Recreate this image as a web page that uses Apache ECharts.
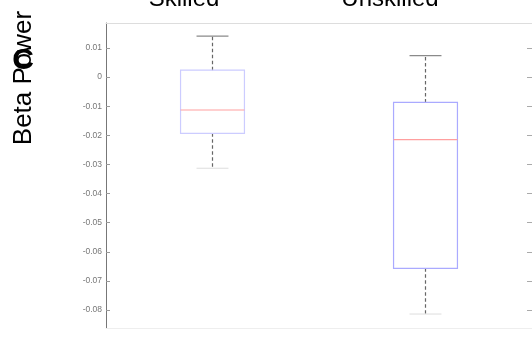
<!DOCTYPE html>
<html>
<head>
<meta charset="utf-8">
<script src="https://cdn.jsdelivr.net/npm/echarts@6/dist/echarts.min.js"></script>
<style>
  html, body { margin: 0; padding: 0; background: #fff; }
  #chart { width: 532px; height: 339px; }
</style>
</head>
<body>
<div id="chart"></div>
<script>
// Groups and their box statistics (beta power)
const groups = ['Skilled', 'Unskilled'];
const lowerWhisker = [-0.0313, -0.0814];
const lowerQuartile = [-0.0193, -0.0657];
const medians = [-0.0113, -0.0215];
const upperQuartile = [0.0024, -0.0087];
const upperWhisker = [0.0141, 0.0074];

// Y-axis ticks
const yTicks = [0.01, 0, -0.01, -0.02, -0.03, -0.04, -0.05, -0.06, -0.07, -0.08];
const yTickLabels = ['0.01', '0', '-0.01', '-0.02', '-0.03', '-0.04', '-0.05', '-0.06', '-0.07', '-0.08'];

const boxData = groups.map((g, i) => [i, lowerWhisker[i], lowerQuartile[i], medians[i], upperQuartile[i], upperWhisker[i]]);

const boxStroke = ['#ccccff', '#aaaaff'];
const font = '"Liberation Sans", Arial, Helvetica, sans-serif';

function labelFor(v) {
  const idx = yTicks.findIndex(t => Math.abs(t - v) < 1e-9);
  return idx >= 0 ? yTickLabels[idx] : '';
}

function renderBox(params, api) {
  const i = api.value(0);
  const x = api.coord([i, 0])[0];
  const band = api.size([1, 0])[0];
  const half = band * 0.15;
  const capHalf = band * 0.075;
  const yLo = api.coord([i, api.value(1)])[1];
  const yQ1 = api.coord([i, api.value(2)])[1];
  const yMed = api.coord([i, api.value(3)])[1];
  const yQ3 = api.coord([i, api.value(4)])[1];
  const yHi = api.coord([i, api.value(5)])[1];
  const dash = { stroke: '#666', lineWidth: 1.2, lineDash: [3.5, 2.5] };
  return {
    type: 'group',
    children: [
      { type: 'line', shape: { x1: x, y1: yQ3, x2: x, y2: yHi }, style: dash },
      { type: 'line', shape: { x1: x, y1: yQ1, x2: x, y2: yLo }, style: dash },
      { type: 'line', shape: { x1: x - capHalf, y1: yHi, x2: x + capHalf, y2: yHi }, style: { stroke: '#8a8a8a', lineWidth: 1.2 } },
      { type: 'line', shape: { x1: x - capHalf, y1: yLo, x2: x + capHalf, y2: yLo }, style: { stroke: '#dddddd', lineWidth: 1 } },
      { type: 'rect', shape: { x: x - half, y: yQ3, width: half * 2, height: yQ1 - yQ3 }, style: { fill: null, stroke: boxStroke[i], lineWidth: 1.2 } },
      { type: 'line', shape: { x1: x - half, y1: yMed, x2: x + half, y2: yMed }, style: { stroke: '#ff9f9f', lineWidth: 1.2 } }
    ]
  };
}

const chart = echarts.init(document.getElementById('chart'), null, { renderer: 'canvas' });
const yMin = -0.0862, yMax = 0.0186;

chart.setOption({
  animation: false,
  backgroundColor: '#ffffff',
  grid: { left: 106, top: 23, width: 427, height: 305 },
  xAxis: [
    {
      type: 'category', data: groups, position: 'bottom',
      axisLine: { onZero: false, lineStyle: { color: '#eeeeee' } },
      axisTick: { inside: true, alignWithLabel: true, length: 4, lineStyle: { color: '#999' } },
      axisLabel: { show: false }
    },
    {
      type: 'category', data: groups, position: 'top',
      axisLine: { onZero: false, lineStyle: { color: '#dddddd' } },
      axisTick: { inside: true, alignWithLabel: true, length: 4, lineStyle: { color: '#999' } },
      axisLabel: { show: false }
    }
  ],
  yAxis: [
    {
      type: 'value', min: yMin, max: yMax, position: 'left',
      splitLine: { show: false },
      axisLine: { show: true, onZero: false, lineStyle: { color: '#777' } },
      axisTick: { show: true, inside: true, length: 4, customValues: yTicks, lineStyle: { color: '#999' } },
      axisLabel: {
        customValues: yTicks, formatter: labelFor,
        color: '#777', fontSize: 8.5, fontFamily: font, margin: 4
      }
    },
    {
      type: 'value', min: yMin, max: yMax, position: 'right',
      splitLine: { show: false },
      axisLine: { show: false, onZero: false },
      axisTick: { show: true, inside: true, length: 5, customValues: yTicks, lineStyle: { color: '#aaa' } },
      axisLabel: { show: false }
    }
  ],
  series: [{
    type: 'custom',
    xAxisIndex: 0, yAxisIndex: 0,
    renderItem: renderBox,
    encode: { x: 0, y: [1, 2, 3, 4, 5] },
    data: boxData
  }],
  graphic: [
    { type: 'text', x: 184, y: -1, style: { text: groups[0], font: '24px ' + font, fill: '#000', align: 'center', verticalAlign: 'middle' } },
    { type: 'text', x: 390, y: -1, style: { text: groups[1], font: '24px ' + font, fill: '#000', align: 'center', verticalAlign: 'middle' } },
    { type: 'text', x: 24, y: 78, rotation: Math.PI / 2, style: { text: 'Beta Power', font: '26px ' + font, fill: '#000', align: 'center', verticalAlign: 'middle' } },
    { type: 'text', x: 23, y: 61, style: { text: 'C', font: 'bold 30px ' + font, fill: '#000', align: 'center', verticalAlign: 'middle' } }
  ]
});
</script>
</body>
</html>
